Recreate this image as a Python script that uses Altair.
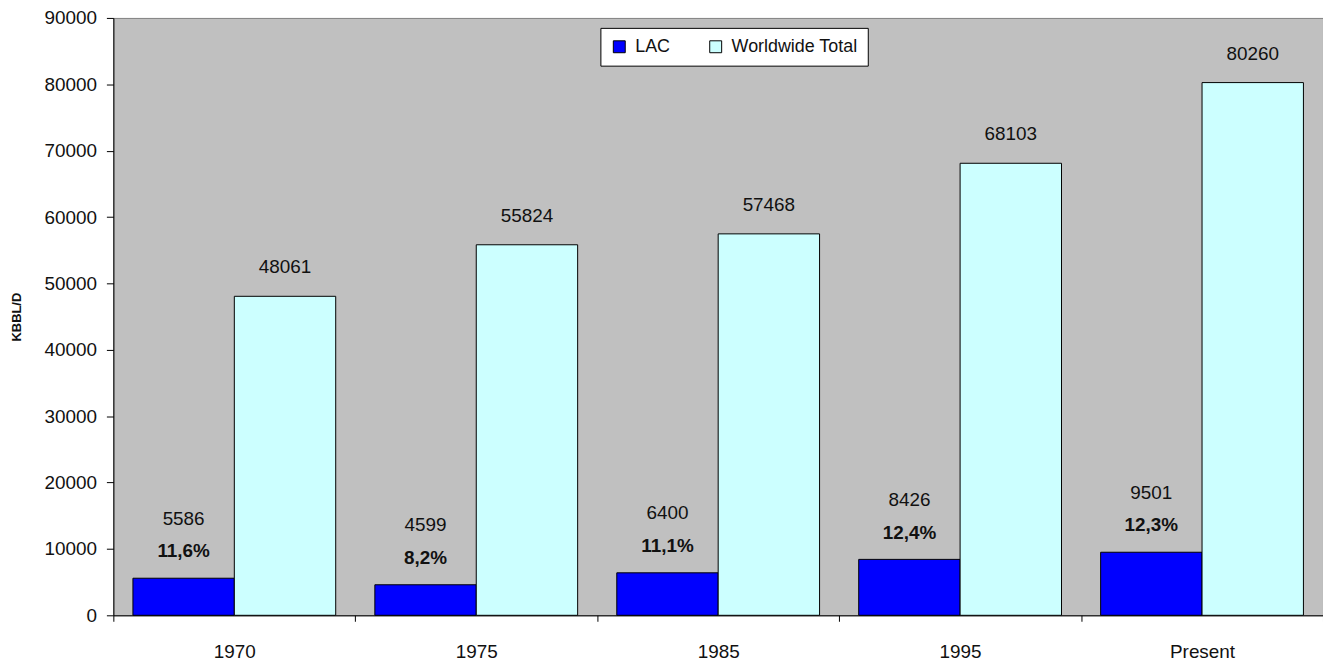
import altair as alt
import pandas as pd

categories = ["1970", "1975", "1985", "1995", "Present"]
lac = [5586, 4599, 6400, 8426, 9501]
world = [48061, 55824, 57468, 68103, 80260]
lac_share = ["11,6%", "8,2%", "11,1%", "12,4%", "12,3%"]
series_names = ["LAC", "Worldwide Total"]
series_colors = ["#0000FF", "#CCFFFF"]

rows = []
for i, c in enumerate(categories):
    rows.append({"cat": c, "series": "LAC", "value": lac[i], "share": lac_share[i]})
    rows.append({"cat": c, "series": "Worldwide Total", "value": world[i], "share": ""})
df = pd.DataFrame(rows)

FONT = "Liberation Sans"

x_enc = alt.X("cat:N", sort=categories, title=None,
              scale=alt.Scale(paddingInner=0, paddingOuter=0),
              axis=alt.Axis(labelAngle=0, tickBand="extent", tickSize=6,
                            labelPadding=21, labelFontSize=19, labelFont=FONT,
                            labelColor="#111111", domainColor="#000000",
                            tickColor="#000000", grid=False))
xoff_enc = alt.XOffset("series:N", sort=series_names,
                       scale=alt.Scale(domain=series_names, paddingInner=0, paddingOuter=0.193))
y_enc = alt.Y("value:Q", title="KBBL/D",
              scale=alt.Scale(domain=[0, 90000], nice=False),
              axis=alt.Axis(values=list(range(0, 90001, 10000)), format="d",
                            tickSize=7, labelPadding=10, labelFontSize=19,
                            labelFont=FONT, labelColor="#111111",
                            domainColor="#000000", tickColor="#000000",
                            grid=False, titleFont=FONT, titleFontSize=13,
                            titleFontWeight="bold", titlePadding=21,
                            titleColor="#111111"))

bars = alt.Chart(df).mark_bar(stroke="#000000", strokeWidth=1).encode(
    x=x_enc,
    xOffset=xoff_enc,
    y=y_enc,
    color=alt.Color("series:N",
                    scale=alt.Scale(domain=series_names, range=series_colors),
                    legend=alt.Legend(title=None, orient="none", direction="horizontal",
                                      legendX=490, legendY=10,
                                      fillColor="#FFFFFF", strokeColor="#000000",
                                      padding=10, symbolType="square", symbolSize=144,
                                      symbolStrokeColor="#000000", symbolStrokeWidth=1,
                                      labelFontSize=18, labelFont=FONT,
                                      labelColor="#111111", columnPadding=36,
                                      labelOffset=7)),
)

lac_val = alt.Chart(df).transform_filter(alt.datum.series == "LAC").mark_text(
    dy=-60, baseline="middle", fontSize=19, font=FONT, color="#111111"
).encode(x=alt.X("cat:N", sort=categories), xOffset=xoff_enc, y="value:Q", text="value:Q")

lac_pct = alt.Chart(df).transform_filter(alt.datum.series == "LAC").mark_text(
    dy=-27, baseline="middle", fontSize=19, font=FONT, fontWeight="bold", color="#111111"
).encode(x=alt.X("cat:N", sort=categories), xOffset=xoff_enc, y="value:Q", text="share:N")

wt_val = alt.Chart(df).transform_filter(alt.datum.series == "Worldwide Total").mark_text(
    dy=-29, baseline="middle", fontSize=19, font=FONT, color="#111111"
).encode(x=alt.X("cat:N", sort=categories), xOffset=xoff_enc, y="value:Q", text="value:Q")

chart = alt.layer(bars, lac_val, lac_pct, wt_val).properties(
    width=1217, height=601,
    autosize=alt.AutoSizeParams(type="none"),
    padding={"left": 106, "top": 8, "right": 0, "bottom": 48},
).configure_view(fill="#C0C0C0", stroke="#808080", strokeWidth=1)

chart.save("out.html", embed_options={"renderer": "svg", "actions": False})
